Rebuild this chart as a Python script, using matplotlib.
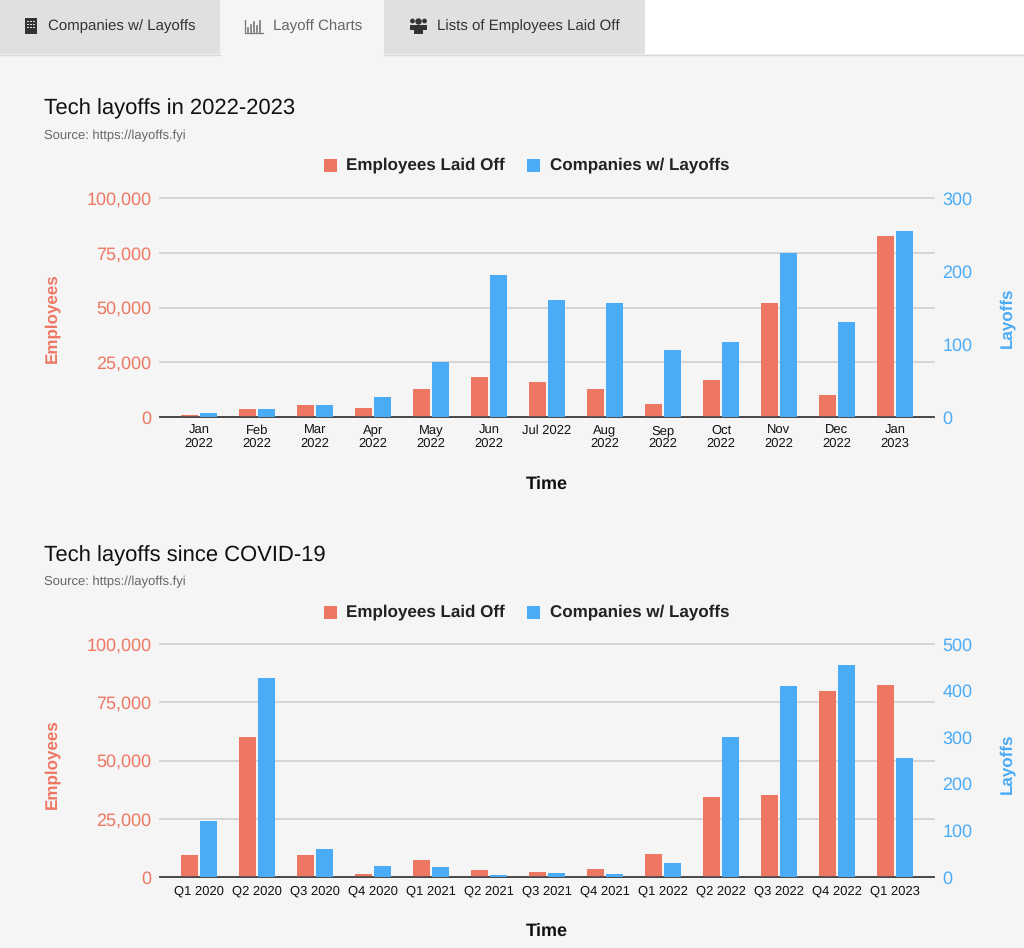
import matplotlib
matplotlib.use("Agg")
import matplotlib.pyplot as plt
from matplotlib.patches import Rectangle, Circle

plt.rcParams['font.family'] = ['Liberation Sans', 'DejaVu Sans']
plt.rcParams['text.hinting'] = 'no_hinting'
plt.rcParams['text.hinting_factor'] = 1

W, H = 1024, 948
BG = '#f5f5f5'
RED = '#ee7763'
BLUE = '#4aabf7'

tabs = ['Companies w/ Layoffs', 'Layoff Charts', 'Lists of Employees Laid Off']
months = ['Jan\n2022', 'Feb\n2022', 'Mar\n2022', 'Apr\n2022', 'May\n2022', 'Jun\n2022', 'Jul 2022',
          'Aug\n2022', 'Sep\n2022', 'Oct\n2022', 'Nov\n2022', 'Dec\n2022', 'Jan\n2023']
monthly_employees = [700, 3600, 5500, 4100, 12800, 18200, 16000, 13000, 6000, 17000, 52000, 10000, 82500]
monthly_layoffs = [5, 11, 16, 27, 75, 195, 160, 156, 92, 103, 224, 130, 255]
quarters = ['Q1 2020', 'Q2 2020', 'Q3 2020', 'Q4 2020', 'Q1 2021', 'Q2 2021', 'Q3 2021', 'Q4 2021',
            'Q1 2022', 'Q2 2022', 'Q3 2022', 'Q4 2022', 'Q1 2023']
quarterly_employees = [9500, 60000, 9500, 1500, 7500, 3000, 2000, 3500, 10000, 34500, 35000, 80000, 82500]
quarterly_layoffs = [120, 427, 60, 24, 21, 5, 9, 7, 30, 300, 410, 455, 255]
left_ticks = [0, 25000, 50000, 75000, 100000]
right_ticks_monthly = [0, 100, 200, 300]
right_ticks_quarterly = [0, 100, 200, 300, 400, 500]

fig = plt.figure(figsize=(W / 100, H / 100), dpi=100, facecolor=BG)

# page overlay in pixel coordinates
bg = fig.add_axes([0, 0, 1, 1], zorder=0)
bg.set_xlim(0, W)
bg.set_ylim(H, 0)
bg.axis('off')
bg.add_patch(Rectangle((0, 0), W, 54, fc='white', ec='none'))
bg.add_patch(Rectangle((0, 0), 220, 54, fc='#e0e0e0', ec='none'))
bg.add_patch(Rectangle((220, 0), 164, 54, fc=BG, ec='none'))
bg.add_patch(Rectangle((384, 0), 261, 54, fc='#e0e0e0', ec='none'))
bg.plot([0, 220], [54.5, 54.5], color='#d8d8d8', lw=1)
bg.plot([384, W], [54.5, 54.5], color='#d8d8d8', lw=1)
TAB_X = [48, 273, 437]
TAB_C = ['#333333', '#666666', '#333333']
for label, x, c in zip(tabs, TAB_X, TAB_C):
    bg.text(x, 26.5, label, ha='left', va='center', fontsize=11.0, color=c)

# tab icons
bg.add_patch(Rectangle((25, 18), 12, 16, fc='#333333', ec='none'))
for yy in (20.5, 23.5, 26.5):
    for xx in (27, 30, 33):
        bg.add_patch(Rectangle((xx, yy), 1.5, 1.5, fc='#dddddd', ec='none'))
bg.plot([245, 245, 263], [20, 33, 33], color='#777777', lw=0.9)
for xx, top in zip((248, 251, 254, 257, 260), (28, 25, 22, 26, 21)):
    bg.plot([xx, xx], [top, 31.5], color='#777777', lw=1.2)
for cx, cy, r in ((418.5, 21.5, 3.2), (412.5, 21, 2.4), (424.5, 21, 2.4)):
    bg.add_patch(Circle((cx, cy), r, fc='#333333', ec='none'))
bg.add_patch(Rectangle((414, 26), 9, 8, fc='#333333', ec='none'))
bg.add_patch(Rectangle((410, 24.5), 17, 5, fc='#333333', ec='none'))


def chart(title, y_title, y_plot_top, y_plot_bottom, y_label, y_time, cats, emp, lay, rticks, y2max):
    x0, x1 = 160, 934
    pad = 10 / 58
    ax = fig.add_axes([x0 / W, 1 - y_plot_bottom / H, (x1 - x0) / W, (y_plot_bottom - y_plot_top) / H],
                      zorder=2)
    ax.patch.set_alpha(0)
    ax2 = ax.twinx()
    ax2.patch.set_alpha(0)
    ax.set_xlim(-0.5 - pad, len(cats) - 0.5 + pad)
    ax.set_ylim(0, 100000)
    ax2.set_ylim(0, y2max)
    bw = 16.5 / 58
    off = 9.5 / 58
    xs = range(len(cats))
    ax.bar([i - off for i in xs], emp, width=bw, color=RED, zorder=3)
    ax2.bar([i + off for i in xs], lay, width=bw, color=BLUE, zorder=3)

    ax.set_yticks(left_ticks)
    ax.set_yticklabels([f'{v:,}' for v in left_ticks])
    ax.tick_params(axis='y', length=0, labelsize=12.7, labelcolor=RED, pad=6.3)
    ax2.set_yticks(rticks)
    ax2.tick_params(axis='y', length=0, labelsize=12.7, labelcolor=BLUE, pad=6.0)
    ax.set_xticks(list(xs))
    ax.set_xticklabels(cats, linespacing=1.12)
    ax.tick_params(axis='x', length=0, labelsize=9.4, labelcolor='#111111', pad=5.5)
    ax.grid(axis='y', color='#cfcfcf', lw=1.2, zorder=0)
    for g in ax.yaxis.get_gridlines():
        g.set_clip_on(False)
    ax.set_axisbelow(True)
    for a in (ax, ax2):
        for s in ('top', 'left', 'right'):
            a.spines[s].set_visible(False)
        a.spines['bottom'].set_color('#444444')
        a.spines['bottom'].set_linewidth(1.1)

    bg.text(52, y_label, 'Employees', rotation=90, ha='center', va='center',
            fontsize=12.6, fontweight='bold', color=RED)
    bg.text(1007, y_label, 'Layoffs', rotation=90, ha='center', va='center',
            fontsize=12.2, fontweight='bold', color=BLUE)

    bg.text(44, y_title, title, ha='left', va='center', fontsize=15.7, color='#111111')
    bg.text(44, y_title + 26.5, 'Source: https://layoffs.fyi', ha='left', va='center',
            fontsize=9.4, color='#666666')
    ly = y_title + 56.5
    bg.add_patch(Rectangle((324, ly - 6.5), 13, 13, fc=RED, ec='none'))
    bg.text(345.5, ly, 'Employees Laid Off', ha='left', va='center', fontsize=12.55,
            fontweight='bold', color='#222222')
    bg.add_patch(Rectangle((527, ly - 6.5), 13, 13, fc=BLUE, ec='none'))
    bg.text(549.5, ly, 'Companies w/ Layoffs', ha='left', va='center', fontsize=12.55,
            fontweight='bold', color='#222222')
    bg.text(547, y_time, 'Time', ha='center', va='center',
            fontsize=12.7, fontweight='bold', color='#111111')


chart('Tech layoffs in 2022-2023', 109, 198, 417, 318, 484.5, months, monthly_employees, monthly_layoffs,
      right_ticks_monthly, 300)
chart('Tech layoffs since COVID-19', 555.5, 644, 877, 764, 931, quarters, quarterly_employees, quarterly_layoffs,
      right_ticks_quarterly, 500)

fig.savefig('out.png', dpi=100, facecolor=BG)
